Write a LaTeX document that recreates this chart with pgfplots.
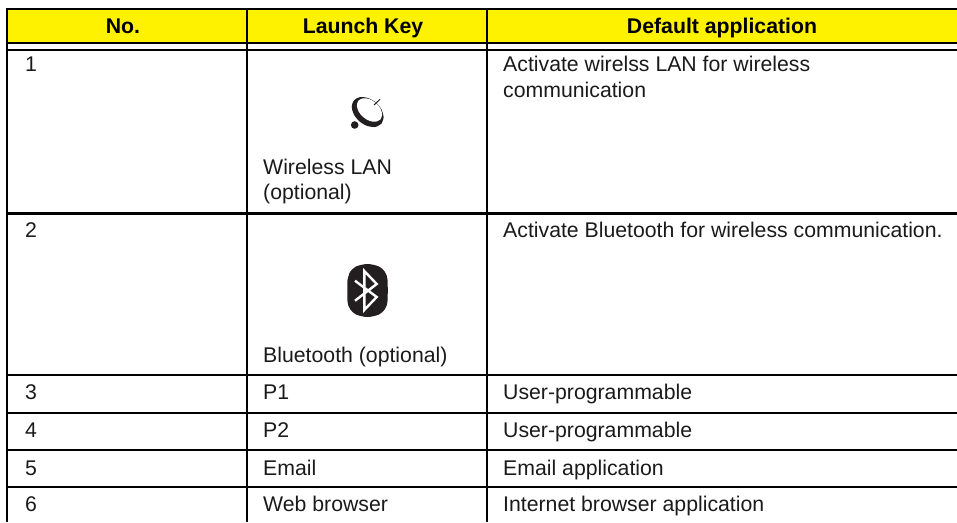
\documentclass[border=0pt]{standalone}
\usepackage{pgfplots}
\usepackage{fontspec}
\setmainfont{Liberation Sans}
\pgfplotsset{compat=1.18}
\definecolor{tx}{HTML}{1A1A1A}
\definecolor{ic}{HTML}{231F20}
\newcommand{\cell}[3]{\node[anchor=base west,inner sep=0pt,text=tx,font=\fontsize{21.25}{24}\selectfont] at (axis cs:#1,#2) {#3};}
\newcommand{\head}[3]{\node[anchor=base,inner sep=0pt,text=black,font=\fontsize{21.25}{24}\selectfont\bfseries] at (axis cs:#1,#2) {#3};}
\begin{document}
\begin{tikzpicture}
\useasboundingbox (0,0) rectangle (957pt,522pt);
\begin{axis}[at={(0,0)},anchor=south west,x=1pt,y=1pt,xmin=0,xmax=957,ymin=0,ymax=522,y dir=reverse,hide axis,clip=true]
% header band
\addplot[draw=none,fill=yellow] coordinates {(7,9) (957,9) (957,43) (7,43) (7,9)};
% horizontal rules
\addplot[black,line width=2.3pt] coordinates {(5.9,9) (957,9)};
\addplot[black,line width=2.3pt] coordinates {(5.9,43) (957,43)};
\addplot[black,line width=2.3pt] coordinates {(5.9,49.7) (957,49.7)};
\addplot[black,line width=2.3pt] coordinates {(5.9,213.5) (957,213.5)};
\addplot[black,line width=2.3pt] coordinates {(5.9,375) (957,375)};
\addplot[black,line width=2.3pt] coordinates {(5.9,412.8) (957,412.8)};
\addplot[black,line width=2.3pt] coordinates {(5.9,450) (957,450)};
\addplot[black,line width=2.3pt] coordinates {(5.9,487.3) (957,487.3)};
% vertical rules
\addplot[black,line width=2.3pt] coordinates {(7,7.9) (7,522)};
\addplot[black,line width=2.3pt] coordinates {(247,7.9) (247,522)};
\addplot[black,line width=2.3pt] coordinates {(487,7.9) (487,522)};
% wireless icon
\addplot[draw=none,fill=ic,smooth] coordinates {(381.5,123.6) (383.6,117.2) (381.5,109.5) (375.7,102.4) (367.7,97.9) (359.7,97.2) (353.9,100.4) (351.7,106.8) (353.9,114.5) (359.7,121.6) (367.7,126.1) (375.7,126.9) (381.5,123.6)};
\addplot[draw=none,fill=white,smooth] coordinates {(380.6,119.3) (382.2,114.4) (380.3,108.3) (375.6,102.7) (369.2,99) (363,98.3) (358.4,100.7) (356.9,105.6) (358.7,111.7) (363.4,117.3) (369.8,121) (376,121.7) (380.6,119.3)};
\addplot[ic,line width=1pt] coordinates {(374,105) (380,99.3)};
\addplot[only marks,mark=*,mark size=3.8pt,mark options={fill=ic,draw=ic,draw opacity=0}] coordinates {(354.7,125)};
% bluetooth icon
\addplot[draw=none,fill=ic,smooth] coordinates {(347.5,280) (350,272) (356,266.5) (367.5,264) (379,266.5) (385,272) (387.5,280) (387.5,301) (385,309) (379,314.5) (367.5,317) (356,314.5) (350,309) (347.5,301) (347.5,280)};
\addplot[white,line width=2.4pt,line join=miter] coordinates {(355,280.7) (376.7,297) (364.3,310) (364.3,271) (376.7,284) (355,300.7)};
% header
\head{123}{33}{No.}
\head{363}{33}{Launch Key}
\head{722}{33}{Default application}
% body
\cell{25}{71}{1}
\cell{263}{174}{Wireless LAN}
\cell{263}{199.5}{(optional)}
\cell{503}{71.5}{Activate wirelss LAN for wireless}
\cell{503}{97.5}{communication}
\cell{25}{237}{2}
\cell{263}{362}{Bluetooth (optional)}
\cell{503}{237.5}{Activate Bluetooth for wireless communication.}
\cell{25}{399.5}{3}
\cell{263}{399.5}{P1}
\cell{503}{399.5}{User-programmable}
\cell{25}{437}{4}
\cell{263}{437}{P2}
\cell{503}{437}{User-programmable}
\cell{25}{475}{5}
\cell{263}{475}{Email}
\cell{503}{475}{Email application}
\cell{25}{511.7}{6}
\cell{263}{511.7}{Web browser}
\cell{503}{511.7}{Internet browser application}
\end{axis}
\end{tikzpicture}
\end{document}
